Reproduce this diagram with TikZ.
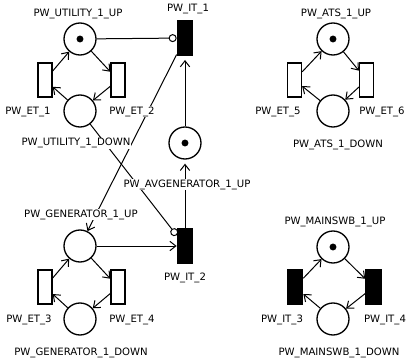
\documentclass[tikz,border=0pt]{standalone}
\usepackage{fontspec}
\setmainfont{DejaVu Sans}
\usetikzlibrary{arrows.meta}

\tikzset{
  place/.style={circle,draw,line width=1pt,minimum size=24pt,inner sep=0pt},
  marked/.style={place,path picture={\fill (path picture bounding box.center) circle (2.6pt);}},
  trans/.style={rectangle,draw,line width=1pt,minimum width=10.5pt,minimum height=25.5pt,inner sep=0pt},
  itrans/.style={trans,fill=black,minimum width=11.5pt,minimum height=26pt},
  arc/.style={line width=0.75pt,-{Straight Barb[length=4.5pt,width=7pt]}},
  inhib/.style={line width=0.75pt,-{Circle[open,length=6pt,line width=0.75pt]}},
  lbl/.style={fill=white,inner sep=0.6pt,font=\fontsize{7.6}{9}\selectfont,anchor=base},
}

\begin{document}
\begin{tikzpicture}[x=0.75pt,y=0.75pt,yscale=-1,xscale=1]
\useasboundingbox (0,0) rectangle (407,360);

%Places
\node[marked] (utilup)   at (80,39)  {};
\node[place]  (utildown) at (80,111) {};
\node[marked] (avgen)    at (185,143) {};
\node[place]  (genup)    at (80,246) {};
\node[place]  (gendown)  at (80,319) {};
\node[marked] (atsup)    at (333,39) {};
\node[place]  (atsdown)  at (333,111) {};
\node[marked] (mainup)   at (333,247) {};
\node[place]  (maindown) at (333,319) {};

%Transitions
\node[trans]  (et1) at (45,80)  {};
\node[trans]  (et2) at (118,80) {};
\node[trans]  (et3) at (45,287) {};
\node[trans]  (et4) at (118,287) {};
\node[trans]  (et5) at (294.5,80) {};
\node[trans]  (et6) at (366.5,80) {};
\node[itrans] (it1) at (185,38) {};
\node[itrans] (it2) at (185,246) {};
\node[itrans] (it3) at (295,287) {};
\node[itrans] (it4) at (373.5,287) {};

%Arcs: utility loop
\draw[arc] (utilup) -- (et2);
\draw[arc] (et2) -- (utildown);
\draw[arc] (utildown) -- (et1);
\draw[arc] (et1) -- (utilup);
%Arcs: generator loop
\draw[arc] (genup) -- (et4);
\draw[arc] (et4) -- (gendown);
\draw[arc] (gendown) -- (et3);
\draw[arc] (et3) -- (genup);
%Arcs: ats loop
\draw[arc] (atsup) -- (et6);
\draw[arc] (et6) -- (atsdown);
\draw[arc] (atsdown) -- (et5);
\draw[arc] (et5) -- (atsup);
%Arcs: mainswb loop
\draw[arc] (mainup) -- (it4);
\draw[arc] (it4) -- (maindown);
\draw[arc] (maindown) -- (it3);
\draw[arc] (it3) -- (mainup);
%Arcs between the loops
\draw[inhib] (utilup) -- (it1);
\draw[inhib] (utildown) -- (it2);
\draw[arc] (it1) -- (genup);
\draw[arc] (genup) -- (it2);
\draw[arc,shorten >=3pt] (avgen) -- (it1);
\draw[arc,shorten >=3pt] (it2) -- (avgen);

%Labels
\node[lbl] (lutilup)   at (78,17)   {PW\_UTILITY\_1\_UP};
\node[lbl] (lutildown) at (76,146)  {PW\_UTILITY\_1\_DOWN};
\node[lbl] (let1)      at (28,114)  {PW\_ET\_1};
\node[lbl] (let2)      at (132,114) {PW\_ET\_2};
\node[lbl] (lit1)      at (188,12)  {PW\_IT\_1};
\node[lbl] (lavgen)    at (187,187) {PW\_AVGENERATOR\_1\_UP};
\node[lbl] (lgenup)    at (81,217)  {PW\_GENERATOR\_1\_UP};
\node[lbl] (lit2)      at (185,280) {PW\_IT\_2};
\node[lbl] (let3)      at (29,322)  {PW\_ET\_3};
\node[lbl] (let4)      at (132,322) {PW\_ET\_4};
\node[lbl] (lgendown)  at (81,355)  {PW\_GENERATOR\_1\_DOWN};
\node[lbl] (latsup)    at (336,17)  {PW\_ATS\_1\_UP};
\node[lbl] (let5)      at (278,114) {PW\_ET\_5};
\node[lbl] (let6)      at (382,114) {PW\_ET\_6};
\node[lbl] (latsdown)  at (338,147) {PW\_ATS\_1\_DOWN};
\node[lbl] (lmainup)   at (335,224) {PW\_MAINSWB\_1\_UP};
\node[lbl] (lit3)      at (282,322) {PW\_IT\_3};
\node[lbl] (lit4)      at (385,322) {PW\_IT\_4};
\node[lbl] (lmaindown) at (339,355) {PW\_MAINSWB\_1\_DOWN};

\end{tikzpicture}
\end{document}
